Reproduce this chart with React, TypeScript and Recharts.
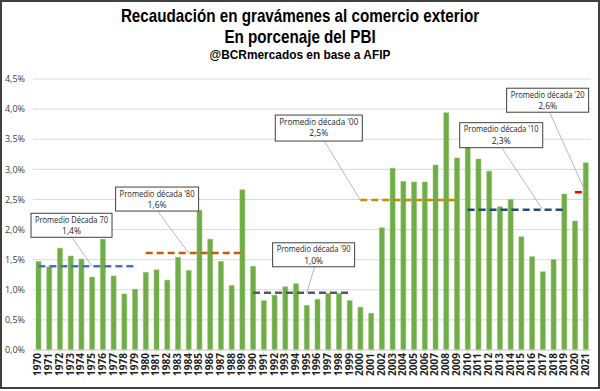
import { ComposedChart, Bar, Line, XAxis, YAxis, CartesianGrid, ReferenceDot } from 'recharts'

const years = [
  '1970', '1971', '1972', '1973', '1974', '1975', '1976', '1977', '1978', '1979',
  '1980', '1981', '1982', '1983', '1984', '1985', '1986', '1987', '1988', '1989',
  '1990', '1991', '1992', '1993', '1994', '1995', '1996', '1997', '1998', '1999',
  '2000', '2001', '2002', '2003', '2004', '2005', '2006', '2007', '2008', '2009',
  '2010', '2011', '2012', '2013', '2014', '2015', '2016', '2017', '2018', '2019',
  '2020', '2021',
]

const recaudacion = [
  1.47, 1.38, 1.69, 1.56, 1.51, 1.21, 1.84, 1.23, 0.93, 1.01,
  1.29, 1.33, 1.16, 1.54, 1.32, 2.32, 1.84, 1.47, 1.07, 2.66,
  1.39, 0.82, 0.91, 1.05, 1.1, 0.74, 0.84, 0.94, 0.94, 0.82,
  0.71, 0.61, 2.03, 3.02, 2.8, 2.79, 2.79, 3.07, 3.94, 3.19,
  3.44, 3.17, 2.97, 2.38, 2.5, 1.88, 1.55, 1.3, 1.5, 2.59,
  2.14, 3.11,
]

// promedio por década: [desde, hasta, valor, color]
const decadas: [string, string, number, string][] = [
  ['1970', '1979', 1.39, '#4472C4'],
  ['1980', '1989', 1.61, '#C55A11'],
  ['1990', '1999', 0.95, '#595959'],
  ['2000', '2009', 2.49, '#BF8F00'],
  ['2010', '2019', 2.33, '#1F4E79'],
  ['2020', '2021', 2.62, '#FF0000'],
]

const yTicks = [0, 0.5, 1, 1.5, 2, 2.5, 3, 3.5, 4, 4.5]

// etiquetas: [año ancla, valor, titulo, texto, dx caja, dy caja, ancho, alto, dx inicio, dy inicio]
const etiquetas: [string, number, string, string, number, number, number, number, number, number][] = [
  ['1975', 1.39, 'Promedio Década 70', '1,4%', -61, -53, 81, 24, -20, -29],
  ['1984', 1.61, "Promedio década '80", '1,6%', -73, -66, 83, 24, -31, -42],
  ['1995', 0.95, "Promedio década '90", '1,0%', -34, -50, 82, 24, 8, -26],
  ['2000', 2.49, "Promedio década '00", '2,5%', -85, -85, 87, 26, -36, -59],
  ['2017', 2.33, "Promedio década '10", '2,3%', -83, -87, 83, 25, -41, -62],
  ['2021', 2.62, "Promedio década '20", '2,6%', -79, -104, 82, 24, -36, -80],
]

const data = years.map((year, i) => {
  const row: Record<string, string | number | null> = { year, valor: recaudacion[i] }
  decadas.forEach(([desde, hasta, v], d) => {
    row['d' + d] = year >= desde && year <= hasta ? v : null
  })
  return row
})

const fmt = (v: number) => v.toFixed(1).replace('.', ',') + '%'

const labelFont = "'Open Sans', sans-serif"

function Etiqueta(props: any, e: (typeof etiquetas)[number]) {
  const { cx, cy } = props
  const [, , titulo, texto, bx, by, w, h, sx, sy] = e
  const x = cx + bx
  const y = cy + by
  return (
    <g>
      <line x1={cx + sx} y1={cy + sy} x2={cx} y2={cy} stroke="#A6A6A6" strokeWidth={0.8} />
      <rect x={x} y={y} width={w} height={h} fill="#fff" stroke="#404040" strokeWidth={1} />
      <text
        x={x + w / 2}
        y={y + 9.5}
        textAnchor="middle"
        fontSize={8.5}
        fill="#262626"
        fontFamily={labelFont}
        textLength={w - 8}
        lengthAdjust="spacingAndGlyphs"
      >
        {titulo}
      </text>
      <text x={x + w / 2} y={y + 21} textAnchor="middle" fontSize={8.5} fill="#262626" fontFamily={labelFont}>
        {texto}
      </text>
    </g>
  )
}

export default function App() {
  return (
    <div
      style={{
        position: 'absolute',
        left: 0,
        top: 0,
        width: 600,
        height: 389,
        boxSizing: 'border-box',
        border: '2px solid #404040',
        background: '#fff',
        overflow: 'hidden',
      }}
    >
      <div
        style={{
          position: 'absolute',
          left: 0,
          width: 596,
          top: 3,
          textAlign: 'center',
          fontFamily: "'Liberation Sans', Arial, sans-serif",
          fontWeight: 'bold',
          color: '#000',
          lineHeight: '21px',
        }}
      >
        <div style={{ fontSize: 19, transform: 'scaleX(0.8)' }}>Recaudación en gravámenes al comercio exterior</div>
        <div style={{ fontSize: 19, transform: 'scaleX(0.8)' }}>En porcenaje del PBI</div>
        <div style={{ fontSize: 12.5, lineHeight: '16px', transform: 'scaleX(0.95)' }}>@BCRmercados en base a AFIP</div>
      </div>
      <div style={{ position: 'absolute', left: -2, top: -2 }}>
        <ComposedChart width={600} height={391} data={data} margin={{ top: 79, right: 9, bottom: 0, left: 0 }} barCategoryGap="28%">
          <CartesianGrid vertical={false} stroke="#D9D9D9" />
          <XAxis
            dataKey="year"
            interval={0}
            height={41}
            angle={-90}
            textAnchor="end"
            dx={-4}
            dy={-3}
            tick={{ fontSize: 10, fill: '#1f1f1f', fontWeight: 'bold', fontFamily: "'Open Sans', sans-serif" }}
            stroke="#D9D9D9"
            tickSize={4}
          />
          <YAxis
            domain={[0, 4.5]}
            ticks={yTicks}
            width={33}
            axisLine={false}
            tickLine={false}
            tickFormatter={fmt}
            tick={{ fontSize: 9, fill: '#404040', fontFamily: "'Open Sans', sans-serif" }}
          />
          <Bar dataKey="valor" fill="#70AD47" stroke="#8CC168" strokeWidth={0.5} isAnimationActive={false} />
          {decadas.map(([, , , color], d) => (
            <Line
              key={d}
              dataKey={'d' + d}
              stroke={color}
              strokeWidth={2.5}
              strokeDasharray="7 4"
              dot={false}
              activeDot={false}
              connectNulls={false}
              isAnimationActive={false}
            />
          ))}
          {etiquetas.map((e, i) => (
            <ReferenceDot key={i} x={e[0]} y={e[1]} r={0} shape={(p: any) => Etiqueta(p, e)} />
          ))}
        </ComposedChart>
      </div>
    </div>
  )
}
